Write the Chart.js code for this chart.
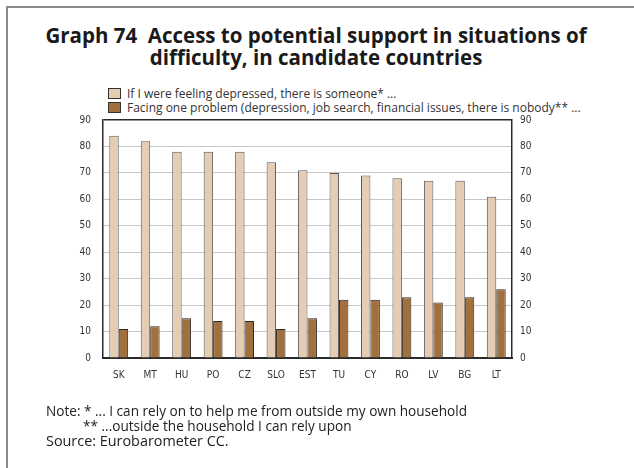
<!DOCTYPE html>
<html>
<head>
<meta charset="utf-8">
<script src="https://cdn.jsdelivr.net/npm/chart.js@4.4.0/dist/chart.umd.min.js"></script>
<style>
  html, body { margin: 0; padding: 0; background: #fff; }
  #page { position: relative; width: 634px; height: 468px; overflow: hidden; font-family: "Open Sans", "DejaVu Sans", sans-serif; color: #222; }
  #frame { position: absolute; left: 6px; top: 6px; width: 640px; height: 480px; border-top: 2px solid #8a8a8a; border-left: 2px solid #8a8a8a; }
  #title { position: absolute; left: 0; top: 24px; width: 632px; text-align: center; font-weight: bold; font-size: 20.5px; line-height: 22px; color: #1a1a1a; }
  #legend { position: absolute; left: 108px; top: 87px; font-size: 12px; line-height: 14px; color: #333; }
  #legend div { white-space: nowrap; }
  #legend span.box { display: inline-block; width: 11px; height: 9px; border: 1px solid #333; margin-right: 6px; vertical-align: -1px; }
  #notes { position: absolute; left: 46px; top: 403px; font-size: 13.6px; line-height: 15px; color: #222; }
  #notes .src { font-size: 14.4px; line-height: 16px; }
  canvas { position: absolute; left: 0; top: 0; }
</style>
</head>
<body>
<div id="page">
  <div id="frame"></div>
  <div id="title">Graph 74&nbsp; Access to potential support in situations of<br>difficulty, in candidate countries</div>
  <div id="legend"></div>
  <canvas id="chart" width="634" height="468"></canvas>
  <div id="notes">
    <div>Note: * ... I can rely on to help me from outside my own household</div>
    <div style="padding-left:37px">** ...outside the household I can rely upon</div>
    <div class="src">Source: Eurobarometer CC.</div>
  </div>
</div>
<script>
// categories and series
const countries = ['SK', 'MT', 'HU', 'PO', 'CZ', 'SLO', 'EST', 'TU', 'CY', 'RO', 'LV', 'BG', 'LT'];
const someone = [84, 82, 78, 78, 78, 74, 71, 70, 69, 68, 67, 67, 61];
const nobody = [11, 12, 15, 14, 14, 11, 15, 22, 22, 23, 21, 23, 26];
const seriesLabels = [
    'If I were feeling depressed, there is someone* ...',
    'Facing one problem (depression, job search, financial issues, there is nobody** ...'
];
const seriesColors = ['#E4CDB3', '#A2703C'];
const seriesBorders = ['#5a5a5a', '#2a2a2a'];

// html legend from the series arrays
const legendEl = document.getElementById('legend');
seriesLabels.forEach((label, i) => {
    const row = document.createElement('div');
    row.innerHTML = '<span class="box" style="background:' + seriesColors[i] + '"></span>' + label;
    legendEl.appendChild(row);
});

const tickFont = { family: '"Liberation Sans Narrow", "DejaVu Sans Condensed", sans-serif', size: 10 };

const ctx = document.getElementById('chart').getContext('2d');
new Chart(ctx, {
    type: 'bar',
    data: {
        labels: countries,
        datasets: [
            { label: seriesLabels[0], data: someone, backgroundColor: seriesColors[0], borderColor: seriesBorders[0], borderWidth: 1, yAxisID: 'y' },
            { label: seriesLabels[1], data: nobody, backgroundColor: seriesColors[1], borderColor: seriesBorders[1], borderWidth: 1, yAxisID: 'y' }
        ]
    },
    options: {
        responsive: false,
        animation: false,
        layout: { padding: { left: 60, right: 92, top: 120, bottom: 80 } },
        datasets: { bar: { categoryPercentage: 0.6, barPercentage: 1.0 } },
        plugins: {
            legend: { display: false },
            tooltip: { enabled: false }
        },
        scales: {
            x: {
                grid: { display: false },
                border: { display: true, color: '#2a2a2a', width: 2 },
                ticks: { color: '#333', font: tickFont, padding: 3 },
                afterFit: (axis) => { axis.height = 30; }
            },
            y: {
                position: 'left',
                min: 0, max: 90,
                grid: {
                    drawTicks: false,
                    color: (c) => c.tick.value === 90 ? '#2a2a2a' : (c.tick.value === 0 ? 'rgba(0,0,0,0)' : '#c8c8c8'),
                    lineWidth: (c) => c.tick.value === 90 ? 1.5 : 1
                },
                border: { display: true, color: '#2a2a2a', width: 1.5 },
                ticks: { stepSize: 10, color: '#333', font: tickFont, padding: 12 },
                afterFit: (axis) => { axis.width = 43; }
            },
            y2: {
                position: 'right',
                min: 0, max: 90,
                grid: { display: false, drawTicks: false },
                border: { display: true, color: '#2a2a2a', width: 1.5 },
                ticks: { stepSize: 10, color: '#333', font: tickFont, padding: 8 },
                afterFit: (axis) => { axis.width = 30; }
            }
        }
    }
});
</script>
</body>
</html>
